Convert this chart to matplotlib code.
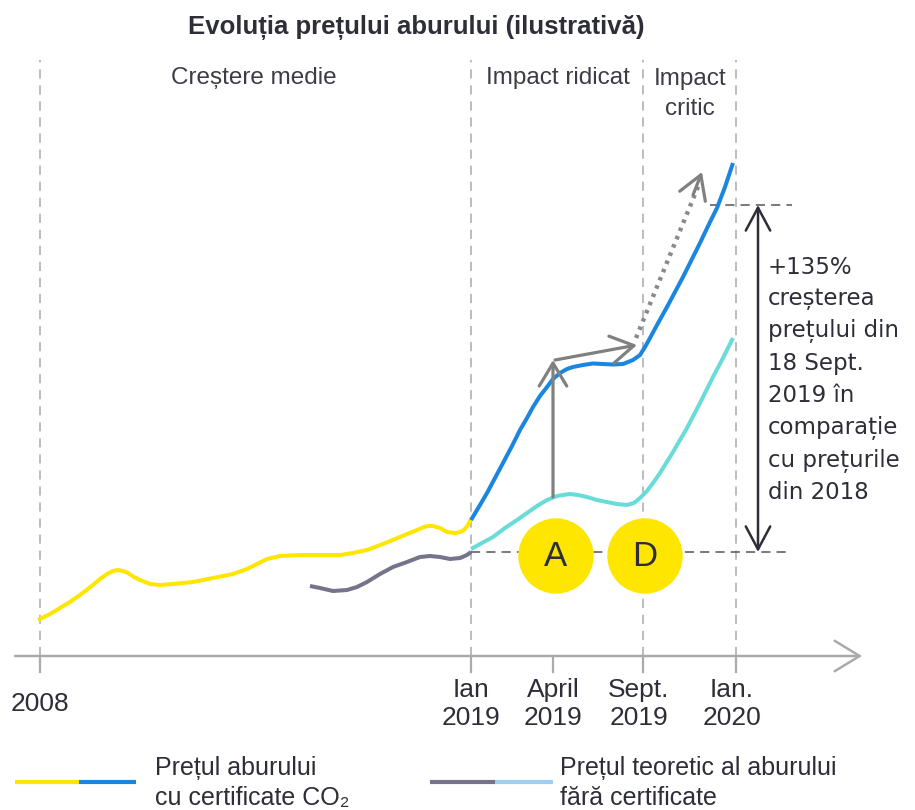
import matplotlib
matplotlib.use("Agg")
import matplotlib.pyplot as plt
from matplotlib.patches import Circle

# timeline is schematic: positions are in "timeline units", prices in "index units"
tick_pos = [40, 471, 553, 643, 736]
tick_labels = ["2008", "Ian\n2019", "April\n2019", "Sept.\n2019", "Ian.\n2020"]
phase_lines = [40, 471, 643, 736]
phase_names = ["Creștere medie", "Impact ridicat", "Impact\ncritic"]

# pret abur cu certificate CO2, 2008 - ian 2019 (galben)
hist_x = [38, 50, 60, 70, 80, 93, 100, 107, 113, 118, 123, 128, 134, 140, 150, 160, 173, 193,
          213, 233, 247, 257, 267, 280, 300, 320, 340, 353, 367, 383, 400, 417, 424, 428, 433,
          440, 447, 455, 460, 464, 468, 471]
hist_y = [36, 42, 48, 54, 61, 71, 77, 82, 85, 86, 85, 83, 79, 76, 72, 71, 72, 74,
          78, 82, 87, 92, 97, 100, 101, 101, 101, 103, 106, 112, 119, 126, 129, 130, 130,
          128, 124, 123, 124, 126, 131, 137]

# pret teoretic fara certificate, istoric (gri)
theo_hist_x = [310, 320, 333, 347, 357, 367, 380, 393, 407, 420, 430, 440, 450, 460, 467, 471]
theo_hist_y = [70, 68, 65, 66, 69, 74, 82, 89, 94, 99, 100, 99, 97, 98, 101, 104]

# 2019 cu certificate (albastru)
co2_x = [471, 480, 487, 495, 503, 512, 520, 527, 533, 540, 547, 553, 560, 567, 573, 583, 593,
         603, 613, 623, 633, 640, 645, 650, 657, 667, 683, 700, 710, 717, 725, 733]
co2_y = [136, 151, 163, 178, 193, 210, 226, 238, 249, 260, 269, 277, 283, 287, 289, 291, 292.5,
         292, 291.5, 292, 296, 301, 309, 318, 331, 349, 379, 413, 434, 448, 469, 493]

# 2019 fara certificate (turcoaz)
theo_x = [471, 482, 493, 505, 517, 527, 537, 547, 557, 563, 570, 578, 587, 597, 607, 617, 627,
          634, 640, 647, 653, 660, 673, 687, 700, 713, 723, 733]
theo_y = [107, 113, 119, 128, 136, 143, 150, 156, 160, 161, 162, 161, 159, 156, 154, 152, 151,
          153, 158, 165, 173, 183, 204, 228, 253, 279, 298, 318]

# adnotari
jump_a = [(553, 159), (553, 296)]
step_d = [(555, 296), (637, 311)]
trend = [(636, 318), (700, 474)]
trend_tip = (702, 484)
level_2018 = 104
level_sept = 451
events = [("A", 556), ("D", 645)]
note = ("+135%\ncreșterea\nprețului din\n18 Sept.\n2019 în\ncomparație\n"
        "cu prețurile\ndin 2018")

YELLOW = "#ffe600"
BLUE = "#1a86e0"
CYAN = "#6adcd8"
GREY = "#74748a"
LIGHTBLUE = "#9fd0f2"
DARK = "#2e2e38"
AXIS = "#aaaaaa"

plt.rcParams["font.family"] = ["Liberation Sans", "DejaVu Sans"]

fig = plt.figure(figsize=(9.15, 8.10), dpi=100)
ax = fig.add_axes([0, 0, 1, 1])
ax.set_xlim(0, 915)
ax.set_ylim(-154, 656)
ax.axis("off")

# faze (linii verticale punctate)
for x in phase_lines:
    ax.plot([x, x], [0, 596], color=AXIS, lw=1.1, dashes=(6, 4.5), zorder=1)
for x in tick_pos:
    ax.plot([x, x], [0, -16], color=AXIS, lw=1.6, zorder=1)

# axa timpului
ax.annotate("", xy=(862, 0), xytext=(15, 0),
            arrowprops=dict(arrowstyle="->,head_length=0.9,head_width=0.55",
                            color=AXIS, lw=1.8, mutation_scale=20, shrinkA=0, shrinkB=0))

# nivele de referinta
ax.plot([471, 789], [level_2018, level_2018], color="#555555", lw=1.1, dashes=(6, 4), zorder=2)
ax.plot([710, 792], [level_sept, level_sept], color="#555555", lw=1.1, dashes=(6, 4), zorder=2)

# curbele
style = dict(lw=2.9, solid_capstyle="butt", solid_joinstyle="round", zorder=3)
ax.plot(hist_x, hist_y, color=YELLOW, **style)
ax.plot(theo_hist_x, theo_hist_y, color=GREY, **style)
ax.plot(co2_x, co2_y, color=BLUE, **style)
ax.plot(theo_x, theo_y, color=CYAN, **style)

# sageti gri
head = "->,head_length=0.75,head_width=0.45"
for seg in [jump_a, step_d]:
    ax.annotate("", xy=seg[1], xytext=seg[0],
                arrowprops=dict(arrowstyle=head, color="#808080", lw=2.3,
                                mutation_scale=22, shrinkA=0, shrinkB=0), zorder=4)
ax.plot([trend[0][0], trend[1][0]], [trend[0][1], trend[1][1]], color="#8a8a8a", lw=3.2,
        dashes=(0.8, 1.2), zorder=4)
ax.annotate("", xy=trend_tip, xytext=(trend_tip[0] - 9, trend_tip[1] - 23),
            arrowprops=dict(arrowstyle=head, color="#808080", lw=2.3,
                            mutation_scale=22, shrinkA=0, shrinkB=0), zorder=4)

# sageata dubla +135%
ax.annotate("", xy=(758, level_sept), xytext=(758, level_2018),
            arrowprops=dict(arrowstyle="<->,head_length=0.75,head_width=0.4", color=DARK,
                            lw=1.8, mutation_scale=22, shrinkA=0, shrinkB=0), zorder=4)

# evenimente A si D
for lab, x in events:
    ax.add_patch(Circle((x, 100), 37, color=YELLOW, zorder=5))
    ax.text(x, 100, lab, ha="center", va="center", fontsize=25, color=DARK, zorder=6)

# texte
ax.text(416, 629, "Evoluția prețului aburului (ilustrativă)", ha="center", va="center",
        fontsize=18.5, fontweight="bold", color=DARK)
ax.text(254, 578, phase_names[0], ha="center", va="center", fontsize=17.5, color="#3c3c46")
ax.text(558, 578, phase_names[1], ha="center", va="center", fontsize=17.5, color="#3c3c46")
ax.text(690, 562, phase_names[2], ha="center", va="center", fontsize=17.5, color="#3c3c46",
        linespacing=1.45)

for x, lab in zip(tick_pos, tick_labels):
    ax.text(x - (4 if x > 600 else 0), -48, lab, ha="center", va="center", fontsize=19,
            color=DARK, linespacing=1.2)

ax.text(768, 276, note, ha="left", va="center", fontsize=16.5, color=DARK,
        family="DejaVu Sans", linespacing=1.49)

# legenda
ax.plot([15, 79], [-126, -126], color=YELLOW, lw=3, solid_capstyle="butt")
ax.plot([79, 136], [-126, -126], color=BLUE, lw=3, solid_capstyle="butt")
ax.plot([430, 495], [-126, -126], color=GREY, lw=3, solid_capstyle="butt")
ax.plot([495, 553], [-126, -126], color=LIGHTBLUE, lw=3, solid_capstyle="butt")
ax.text(155, -127, "Prețul aburului\ncu certificate CO₂", ha="left", va="center",
        fontsize=18, color=DARK, linespacing=1.3)
ax.text(560, -127, "Prețul teoretic al aburului\nfără certificate", ha="left", va="center",
        fontsize=18, color=DARK, linespacing=1.3)

fig.savefig("out.png", dpi=100)
